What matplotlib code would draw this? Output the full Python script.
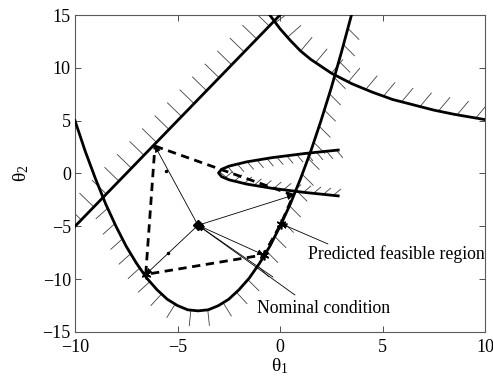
import numpy as np
import matplotlib
matplotlib.use('Agg')
import matplotlib.pyplot as plt
from matplotlib.collections import LineCollection

plt.rcParams['font.family'] = 'Liberation Serif'
plt.rcParams['mathtext.fontset'] = 'custom'
plt.rcParams['mathtext.rm'] = 'Liberation Serif'
plt.rcParams['mathtext.it'] = 'Liberation Serif'

# constraint boundaries (theta1, theta2)
line_x = [-10, 0]
line_y = [-5, 15]

bowl_x = [-10, -9.5, -9, -8.5, -8, -7.5, -7, -6.5, -6, -5.5, -5, -4.5, -4,
          -3.5, -3, -2.5, -2, -1.5, -1, -0.5, 0, 0.5, 1, 1.5, 2, 2.5, 3, 3.5]
bowl_y = [5.0, 2.1, -0.5, -2.9, -5.0, -6.9, -8.5, -9.9, -11.0, -11.9, -12.5, -12.9, -13.0,
          -12.9, -12.5, -11.9, -11.0, -9.9, -8.5, -6.9, -5.0, -2.9, -0.5, 2.1, 5.0, 8.1, 11.5, 15.1]

arc_x = [-0.5, 0, 0.5, 1, 1.5, 2.5, 3.5, 4.5, 5.5, 6.5, 7.5, 8.5, 10]
arc_y = [15.0, 13.7, 12.6, 11.6, 10.8, 9.5, 8.5, 7.7, 7.0, 6.5, 6.0, 5.6, 5.1]

nose_x = [2.84, 1.24, -0.39, -1.63, -2.48, -2.85, -3.0, -2.85, -2.48, -1.63, -0.39, 1.24, 2.84]
nose_y = [-2.12, -1.8, -1.4, -1.0, -0.6, -0.3, 0.05, 0.4, 0.7, 1.1, 1.5, 1.9, 2.22]

# nominal point and predicted region vertices
nominal = (-4.0, -4.9)
vert_x = [-6.1, 0.65, 0.05, -0.8, -6.55]
vert_y = [2.6, -2.05, -4.75, -7.7, -9.55]
arrow_to = [0, 1, 3, 4]
star_at = [2, 3, 4]
mid_x = [-5.55, -5.45]
mid_y = [0.2, -7.5]

labels = ['Predicted feasible region', 'Nominal condition']
label_x = [1.37, -1.12]
label_y = [-7.6, -12.8]
leader_x = [2.34, 0.73, -0.34]
leader_y = [-6.67, -11.5, -9.8]

fig = plt.figure(figsize=(4.93, 3.77), dpi=100)
ax = fig.add_axes([75 / 493, 1 - 332 / 377, 410 / 493, 317 / 377])
ax.set_xlim(-10, 10)
ax.set_ylim(-15, 15)
ax.set_xticks([-10, -5, 0, 5, 10])
ax.set_yticks([-15, -10, -5, 0, 5, 10, 15])
ax.tick_params(direction='in', top=True, right=True, length=4, width=0.7,
               labelsize=13, color='0.3')
ax.tick_params(axis='x', pad=5)
ax.tick_params(axis='y', pad=3)
for sp in ax.spines.values():
    sp.set_color('0.35')
    sp.set_linewidth(0.8)
ax.set_xlabel(r'$\theta_1$', fontsize=14, labelpad=0)
ax.set_ylabel(r'$\theta_2$', fontsize=14, labelpad=8)


def hatch(xs, ys, step, size, side, lo, hi, xmin=-np.inf):
    # short tick marks along a boundary, on one side, in pixel space
    pts = ax.transData.transform(np.column_stack([xs, ys]))
    seg = np.diff(pts, axis=0)
    seglen = np.hypot(seg[:, 0], seg[:, 1])
    cum = np.concatenate([[0], np.cumsum(seglen)])
    s = np.arange(step / 2, cum[-1], step)
    idx = np.clip(np.searchsorted(cum, s, side='right') - 1, 0, len(seg) - 1)
    frac = (s - cum[idx]) / seglen[idx]
    base = pts[idx] + seg[idx] * frac[:, None]
    t = seg[idx] / seglen[idx][:, None]
    n = side * np.column_stack([-t[:, 1], t[:, 0]])
    ang = np.clip(np.arctan2(n[:, 1], n[:, 0]), np.radians(lo), np.radians(hi))
    tip = base + size * np.column_stack([np.cos(ang), np.sin(ang)])
    inv = ax.transData.inverted()
    b = inv.transform(base)
    e = inv.transform(tip)
    keep = b[:, 0] >= xmin
    segs = np.stack([b, e], axis=1)[keep]
    ax.add_collection(LineCollection(segs, colors='0.25', linewidths=0.6, zorder=1))


hatch(line_x, line_y, 18, 20, +1, 90, 180)
hatch(bowl_x, bowl_y, 17, 16, -1, -138, -45, xmin=-8.65)
hatch(arc_x, arc_y, 19, 18, +1, 0, 50)
hatch(nose_x, nose_y, 10, 10, -1, -50, 40)

for xs, ys in [(line_x, line_y), (bowl_x, bowl_y), (arc_x, arc_y), (nose_x, nose_y)]:
    ax.plot(xs, ys, color='k', lw=2, zorder=3)

# predicted region outline
ax.plot(vert_x + vert_x[:1], vert_y + vert_y[:1], color='k', lw=2,
        linestyle=(0, (3, 2)), zorder=4)

arrow = dict(arrowstyle='-|>', lw=0.6, color='k', mutation_scale=9,
             shrinkA=0, shrinkB=0)
for i in arrow_to:
    ax.annotate('', xy=(vert_x[i], vert_y[i]), xytext=nominal, arrowprops=arrow, zorder=5)
ax.plot(mid_x, mid_y, 'k.', ms=3, zorder=5)

ax.plot([vert_x[i] for i in star_at], [vert_y[i] for i in star_at], ls='none',
        marker=(6, 2, 0), ms=7, mec='k', mew=1.2, zorder=6)
ax.plot(*nominal, 'kD', ms=5, zorder=6)

ax.annotate('', xy=(vert_x[2], vert_y[2]), xytext=(leader_x[0], leader_y[0]), arrowprops=arrow)
ax.annotate('', xy=nominal, xytext=(leader_x[1], leader_y[1]), arrowprops=arrow)
ax.annotate('', xy=nominal, xytext=(leader_x[2], leader_y[2]), arrowprops=arrow)

for txt, tx, ty in zip(labels, label_x, label_y):
    ax.text(tx, ty, txt, fontsize=12.8, va='center', ha='left', zorder=7)

fig.savefig('out.png', dpi=100)
